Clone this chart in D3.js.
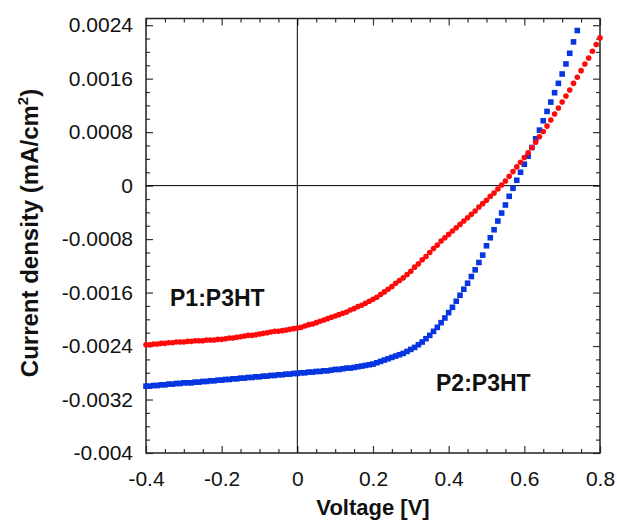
<!DOCTYPE html>
<html><head><meta charset="utf-8">
<script src="https://cdn.jsdelivr.net/npm/d3@7"></script>
<style>body{margin:0;background:#fff}svg text{font-family:"Liberation Sans",Arial,sans-serif}</style>
</head><body><svg id="c" width="617" height="520"></svg>
<script>
// Voltage grid (V)
const voltages = d3.range(-40, 81).map(i => i / 100);
// P1:P3HT current density (mA/cm2), one value per voltage step
const p1Values = [
-0.00238,-0.00238,-0.00237,-0.00237,-0.00236,-0.00236,-0.00235,-0.00235,-0.00234,-0.00234,
-0.00234,-0.00233,-0.00233,-0.00232,-0.00232,-0.00232,-0.00231,-0.00231,-0.00231,-0.00230,
-0.00230,-0.00229,-0.00228,-0.00228,-0.00227,-0.00226,-0.00225,-0.00224,-0.00224,-0.00223,
-0.00222,-0.00221,-0.00220,-0.00219,-0.00218,-0.00218,-0.00217,-0.00216,-0.00215,-0.00214,
-0.00213,-0.00212,-0.00210,-0.00208,-0.00207,-0.00205,-0.00203,-0.00201,-0.00199,-0.00197,
-0.00195,-0.00193,-0.00191,-0.00189,-0.00186,-0.00184,-0.00181,-0.00179,-0.00176,-0.00173,
-0.00170,-0.00167,-0.00163,-0.00159,-0.00155,-0.00151,-0.00146,-0.00142,-0.00138,-0.00133,
-0.00128,-0.00122,-0.00117,-0.00111,-0.00106,-0.00100,-0.00094,-0.00089,-0.00083,-0.00078,
-0.00073,-0.00068,-0.00063,-0.00058,-0.00053,-0.00048,-0.00043,-0.00038,-0.00032,-0.00027,
-0.00022,-0.00016,-0.00011,-0.00005,0.00001,0.00007,0.00014,0.00021,0.00028,0.00035,
0.00042,0.00049,0.00057,0.00065,0.00073,0.00081,0.00089,0.00098,0.00107,0.00116,
0.00125,0.00134,0.00143,0.00153,0.00162,0.00172,0.00182,0.00191,0.00201,0.00211,
0.00221];
// P2:P3HT current density (mA/cm2), from -0.40 V to 0.74 V
const p2Values = [
-0.00300,-0.00300,-0.00299,-0.00299,-0.00298,-0.00298,-0.00297,-0.00297,-0.00296,-0.00296,
-0.00295,-0.00295,-0.00295,-0.00294,-0.00294,-0.00293,-0.00293,-0.00292,-0.00292,-0.00291,
-0.00291,-0.00290,-0.00290,-0.00289,-0.00289,-0.00288,-0.00288,-0.00287,-0.00287,-0.00286,
-0.00286,-0.00285,-0.00285,-0.00284,-0.00284,-0.00283,-0.00283,-0.00282,-0.00282,-0.00281,
-0.00281,-0.00280,-0.00280,-0.00279,-0.00279,-0.00278,-0.00278,-0.00277,-0.00277,-0.00276,
-0.00275,-0.00275,-0.00274,-0.00273,-0.00273,-0.00272,-0.00271,-0.00270,-0.00269,-0.00268,
-0.00267,-0.00265,-0.00263,-0.00261,-0.00259,-0.00257,-0.00255,-0.00253,-0.00251,-0.00248,
-0.00245,-0.00242,-0.00238,-0.00234,-0.00229,-0.00224,-0.00218,-0.00212,-0.00205,-0.00198,
-0.00190,-0.00182,-0.00173,-0.00164,-0.00155,-0.00146,-0.00136,-0.00126,-0.00115,-0.00104,
-0.00090,-0.00078,-0.00066,-0.00053,-0.00041,-0.00029,-0.00016,-0.00004,0.00008,0.00020,
0.00032,0.00044,0.00057,0.00070,0.00083,0.00097,0.00111,0.00125,0.00139,0.00153,
0.00167,0.00182,0.00198,0.00215,0.00232];
const xTicks = [-0.4,-0.2,0,0.2,0.4,0.6,0.8];
const xTickLabels = ["-0.4","-0.2","0","0.2","0.4","0.6","0.8"];
const yTicks = [0.0024,0.0016,0.0008,0,-0.0008,-0.0016,-0.0024,-0.0032,-0.004];
const yTickLabels = ["0.0024","0.0016","0.0008","0","-0.0008","-0.0016","-0.0024","-0.0032","-0.004"];
const seriesNames = ["P1:P3HT","P2:P3HT"];

const svg = d3.select("#c");
const L = 146, R = 600, T = 18.5, B = 453;
const x = d3.scaleLinear().domain([-0.4, 0.8]).range([L, R]);
const y = d3.scaleLinear().domain([-0.004, 0.0025]).range([B, T]);

const xMinor = d3.range(-40, 81, 5).map(v => v / 100).filter(v => !xTicks.some(t => Math.abs(t - v) < 1e-9));
const yMinor = d3.range(-40, 25, 2).map(v => v / 10000).filter(v => !yTicks.some(t => Math.abs(t - v) < 1e-9));

const tickCol = "#333";
function drawAxis(axisFn, scale, transform, ticks, size, labels) {
  const g = svg.append("g").attr("transform", transform)
    .call(axisFn(scale).tickValues(ticks).tickSizeInner(-size).tickSizeOuter(0)
      .tickFormat((d, i) => labels ? labels[i] : ""));
  g.select(".domain").remove();
  g.selectAll(".tick line").attr("stroke", tickCol).attr("stroke-width", 1.2);
  return g;
}
// bottom
const gx = drawAxis(d3.axisBottom, x, `translate(0,${B})`, xTicks, 7, xTickLabels);
gx.selectAll("text").attr("font-size", 21).attr("fill", "#111").attr("dy", 0).attr("y", 33);
drawAxis(d3.axisBottom, x, `translate(0,${B})`, xMinor, 4, null);
// top
drawAxis(d3.axisTop, x, `translate(0,${T})`, xTicks, 7, null);
drawAxis(d3.axisTop, x, `translate(0,${T})`, xMinor, 4, null);
// left
const gy = drawAxis(d3.axisLeft, y, `translate(${L},0)`, yTicks, 7, yTickLabels);
gy.selectAll("text").attr("font-size", 21).attr("fill", "#111").attr("x", -13);
drawAxis(d3.axisLeft, y, `translate(${L},0)`, yMinor, 4, null);
// right
drawAxis(d3.axisRight, y, `translate(${R},0)`, yTicks, 7, null);
drawAxis(d3.axisRight, y, `translate(${R},0)`, yMinor, 4, null);

// zero lines
svg.append("line").attr("x1", x(0)).attr("x2", x(0)).attr("y1", T).attr("y2", B).attr("stroke", "#000").attr("stroke-width", 1);
svg.append("line").attr("x1", L).attr("x2", R).attr("y1", y(0)).attr("y2", y(0)).attr("stroke", "#000").attr("stroke-width", 1);

// frame
svg.append("rect").attr("x", L).attr("y", T).attr("width", R - L).attr("height", B - T)
  .attr("fill", "none").attr("stroke", "#222").attr("stroke-width", 1.5);

const plot = svg.append("g");
const p2 = p2Values.map((v, i) => ({ v: voltages[i], j: v }));
const p1 = p1Values.map((v, i) => ({ v: voltages[i], j: v }));
const s = 5.6;
plot.selectAll("rect.p2").data(p2).enter().append("rect").attr("class", "p2")
  .attr("x", d => x(d.v) - s / 2).attr("y", d => y(d.j) - s / 2)
  .attr("width", s).attr("height", s).attr("fill", "#0636e0");
plot.selectAll("circle.p1").data(p1).enter().append("circle").attr("class", "p1")
  .attr("cx", d => x(d.v)).attr("cy", d => y(d.j)).attr("r", 2.8).attr("fill", "#ff0a0a");

// series labels
svg.append("text").attr("x", 170).attr("y", 306).attr("font-size", 23).attr("font-weight", "bold").attr("fill", "#111").text(seriesNames[0]);
svg.append("text").attr("x", 436).attr("y", 391).attr("font-size", 23).attr("font-weight", "bold").attr("fill", "#111").text(seriesNames[1]);

// axis titles
svg.append("text").attr("x", (L + R) / 2).attr("y", 515).attr("text-anchor", "middle")
  .attr("font-size", 22).attr("font-weight", "bold").attr("fill", "#111").text("Voltage [V]");
const yt = svg.append("text").attr("transform", `translate(38,233) rotate(-90)`)
  .attr("text-anchor", "middle").attr("font-size", 24).attr("font-weight", "bold").attr("fill", "#111");
yt.append("tspan").text("Current density (mA/cm");
yt.append("tspan").attr("font-size", 15).attr("dy", -10).text("2");
yt.append("tspan").attr("dy", 10).text(")");
</script></body></html>
